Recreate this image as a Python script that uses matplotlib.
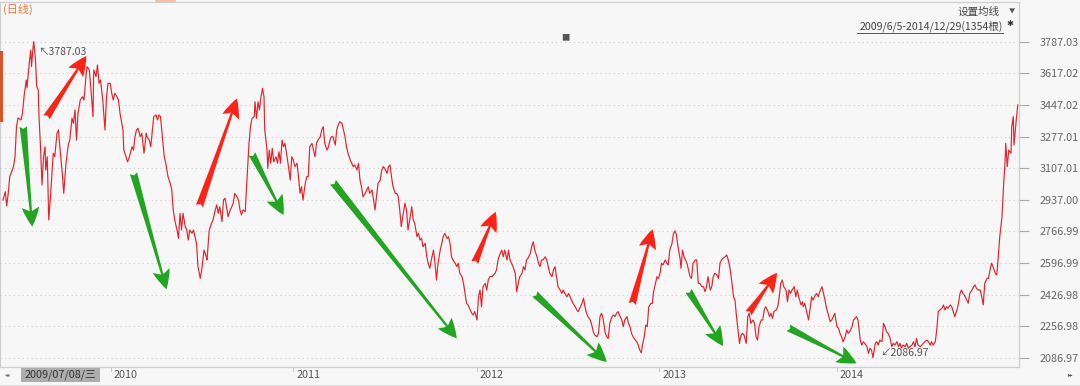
import matplotlib
matplotlib.use('Agg')
import matplotlib.pyplot as plt
from matplotlib.patches import Rectangle
from matplotlib.transforms import blended_transform_factory

plt.rcParams['font.family'] = ['Noto Sans CJK SC', 'DejaVu Sans']

W, H = 1080, 386
BG = '#f7f7f7'

# daily close (bar index from 2009/6/5)
bars = [4, 7, 9, 11, 13, 18, 20, 22, 24, 28, 30, 32, 35, 36, 39, 41, 42, 44, 45, 47,
        49, 51, 52, 54, 56, 58, 60, 61, 63, 65, 67, 69, 71, 73, 76, 78, 79, 81, 83, 85,
        88, 91, 93, 96, 98, 100, 102, 104, 107, 110, 112, 115, 116, 119, 121, 124, 125, 128, 130, 132,
        134, 137, 140, 142, 144, 147, 149, 151, 153, 156, 158, 160, 164, 165, 168, 170, 172, 176, 178, 180,
        182, 184, 187, 189, 192, 195, 196, 199, 201, 204, 205, 208, 210, 212, 214, 217, 219, 221, 224, 227,
        229, 231, 233, 236, 238, 240, 242, 244, 247, 249, 251, 253, 256, 258, 260, 262, 264, 267, 269, 272,
        275, 276, 279, 282, 284, 287, 289, 291, 293, 296, 298, 300, 302, 304, 307, 309, 311, 313, 316, 318,
        320, 322, 324, 327, 328, 330, 332, 334, 336, 339, 340, 342, 344, 346, 348, 350, 352, 353, 356, 357,
        359, 361, 363, 365, 368, 370, 372, 374, 376, 378, 380, 382, 384, 387, 389, 391, 393, 396, 398, 400,
        402, 404, 407, 409, 411, 413, 416, 418, 420, 422, 424, 427, 429, 431, 433, 436, 438, 440, 442, 444,
        447, 449, 451, 453, 456, 458, 460, 462, 464, 467, 469, 471, 473, 476, 478, 480, 482, 484, 487, 489,
        491, 493, 496, 498, 500, 502, 504, 507, 509, 511, 513, 516, 518, 520, 522, 524, 527, 529, 531, 533,
        535, 537, 540, 542, 544, 547, 549, 551, 553, 556, 558, 560, 562, 564, 567, 569, 571, 573, 576, 578,
        580, 582, 584, 587, 589, 591, 593, 596, 598, 600, 602, 604, 607, 609, 611, 613, 616, 618, 620, 622,
        624, 627, 629, 631, 633, 636, 638, 640, 642, 644, 647, 649, 651, 653, 656, 658, 660, 662, 664, 667,
        669, 671, 673, 676, 678, 680, 682, 684, 687, 689, 691, 693, 696, 698, 700, 702, 704, 707, 709, 711,
        713, 716, 718, 720, 722, 724, 727, 729, 731, 733, 736, 738, 740, 742, 744, 747, 749, 751, 753, 756,
        758, 760, 762, 764, 767, 769, 771, 773, 776, 778, 780, 782, 784, 787, 789, 791, 793, 796, 798, 800,
        802, 804, 807, 809, 811, 813, 816, 818, 820, 822, 824, 827, 829, 831, 833, 836, 838, 840, 842, 844,
        847, 849, 851, 853, 855, 857, 859, 861, 863, 865, 868, 870, 871, 873, 876, 878, 880, 882, 884, 887,
        889, 891, 893, 896, 898, 900, 902, 904, 907, 908, 910, 912, 914, 916, 918, 920, 922, 924, 927, 929,
        931, 933, 936, 938, 940, 942, 944, 947, 949, 951, 953, 956, 958, 960, 962, 964, 967, 969, 971, 973,
        976, 978, 980, 982, 984, 986, 988, 990, 992, 995, 997, 999, 1001, 1004, 1006, 1008, 1010, 1012, 1015, 1017,
        1019, 1021, 1024, 1026, 1028, 1030, 1032, 1035, 1037, 1039, 1041, 1043, 1045, 1048, 1050, 1052, 1054, 1056, 1059, 1061,
        1063, 1065, 1068, 1070, 1071, 1073, 1076, 1078, 1080, 1082, 1084, 1087, 1089, 1091, 1093, 1096, 1098, 1100, 1102, 1104,
        1107, 1109, 1111, 1113, 1116, 1118, 1120, 1122, 1124, 1127, 1129, 1131, 1133, 1136, 1138, 1140, 1142, 1144, 1147, 1149,
        1151, 1153, 1156, 1158, 1160, 1162, 1164, 1167, 1169, 1171, 1173, 1176, 1178, 1180, 1182, 1184, 1187, 1189, 1191, 1193,
        1196, 1198, 1200, 1202, 1204, 1207, 1209, 1211, 1213, 1216, 1218, 1220, 1222, 1224, 1227, 1229, 1231, 1233, 1236, 1238,
        1240, 1242, 1244, 1247, 1249, 1251, 1253, 1256, 1258, 1260, 1262, 1264, 1267, 1269, 1271, 1273, 1276, 1278, 1280, 1282,
        1284, 1287, 1289, 1291, 1293, 1296, 1298, 1300, 1302, 1304, 1307, 1309, 1311, 1313, 1316, 1318, 1320, 1322, 1324, 1327,
        1329, 1331, 1333, 1336, 1338, 1340, 1341, 1343, 1345, 1348, 1349, 1351, 1352, 1355, 1357]
prices = [2935, 2980, 2903, 2973, 3061, 3115, 3168, 3330, 3377, 3366, 3403, 3491, 3581, 3538, 3672, 3742, 3653, 3753, 3787, 3706,
          3545, 3527, 3384, 3222, 3016, 3168, 3222, 3097, 3168, 2828, 2935, 3061, 3187, 3168, 3294, 3312, 3258, 3168, 3079, 2971,
          3133, 3231, 3258, 3375, 3348, 3420, 3258, 3402, 3473, 3491, 3473, 3617, 3653, 3635, 3545, 3384, 3635, 3599, 3662, 3563,
          3581, 3473, 3312, 3491, 3563, 3563, 3509, 3473, 3509, 3491, 3473, 3402, 3312, 3204, 3168, 3141, 3160, 3222, 3204, 3276,
          3312, 3321, 3276, 3294, 3187, 3294, 3276, 3258, 3222, 3348, 3384, 3393, 3366, 3393, 3384, 3258, 3168, 3133, 3061, 3025,
          2989, 2882, 2828, 2774, 2729, 2864, 2774, 2864, 2792, 2774, 2720, 2774, 2756, 2774, 2738, 2702, 2577, 2514, 2559, 2666,
          2630, 2613, 2774, 2810, 2828, 2882, 2909, 2864, 2899, 2819, 2935, 2945, 2899, 2846, 2882, 2899, 2918, 2971, 2953, 2935,
          2882, 2855, 2882, 2873, 2953, 3097, 3240, 3330, 3375, 3384, 3464, 3375, 3464, 3420, 3491, 3536, 3491, 3312, 3204, 3106,
          3204, 3133, 3214, 3141, 3168, 3133, 3195, 3133, 3258, 3222, 3240, 3187, 3133, 3043, 3168, 3151, 3115, 3133, 3061, 2971,
          3007, 2935, 3025, 3061, 3061, 3222, 3240, 3204, 3168, 3240, 3258, 3276, 3312, 3330, 3240, 3204, 3222, 3258, 3276, 3276,
          3231, 3312, 3339, 3357, 3348, 3312, 3276, 3222, 3187, 3151, 3133, 3115, 3124, 3097, 3133, 3043, 3007, 2953, 2971, 2989,
          3007, 2971, 2989, 2935, 2882, 2953, 3025, 3043, 3097, 3115, 3106, 3079, 3115, 3124, 3061, 3007, 2971, 2971, 2953, 2882,
          2792, 2846, 2918, 2882, 2774, 2846, 2899, 2828, 2810, 2738, 2756, 2720, 2729, 2684, 2702, 2630, 2595, 2568, 2630, 2666,
          2595, 2505, 2595, 2666, 2702, 2738, 2756, 2729, 2738, 2702, 2630, 2613, 2595, 2577, 2595, 2541, 2523, 2487, 2433, 2380,
          2371, 2344, 2326, 2317, 2335, 2290, 2415, 2451, 2361, 2469, 2487, 2451, 2505, 2523, 2523, 2532, 2541, 2559, 2613, 2649,
          2666, 2630, 2666, 2613, 2666, 2613, 2595, 2577, 2541, 2442, 2487, 2523, 2541, 2577, 2559, 2613, 2622, 2649, 2684, 2711,
          2666, 2630, 2595, 2577, 2613, 2613, 2630, 2613, 2577, 2541, 2523, 2559, 2577, 2523, 2469, 2451, 2433, 2451, 2433, 2415,
          2433, 2415, 2397, 2380, 2361, 2344, 2335, 2353, 2380, 2407, 2361, 2326, 2308, 2290, 2263, 2227, 2209, 2200, 2218, 2308,
          2326, 2300, 2220, 2200, 2191, 2272, 2308, 2317, 2308, 2326, 2335, 2308, 2290, 2254, 2290, 2308, 2272, 2254, 2218, 2200,
          2182, 2173, 2155, 2128, 2114, 2164, 2200, 2263, 2254, 2361, 2380, 2380, 2433, 2469, 2523, 2514, 2541, 2595, 2586, 2613,
          2595, 2586, 2666, 2702, 2756, 2769, 2747, 2684, 2613, 2568, 2666, 2630, 2613, 2595, 2559, 2523, 2514, 2595, 2613, 2613,
          2487, 2487, 2469, 2469, 2442, 2469, 2523, 2451, 2469, 2523, 2541, 2532, 2514, 2595, 2613, 2622, 2630, 2640, 2613, 2577,
          2487, 2415, 2397, 2308, 2236, 2164, 2209, 2218, 2209, 2164, 2308, 2326, 2272, 2290, 2272, 2200, 2182, 2254, 2290, 2290,
          2344, 2361, 2335, 2308, 2326, 2299, 2335, 2344, 2361, 2415, 2487, 2505, 2469, 2451, 2388, 2451, 2433, 2451, 2469, 2415,
          2451, 2415, 2371, 2388, 2361, 2380, 2326, 2290, 2344, 2415, 2397, 2424, 2433, 2415, 2442, 2469, 2433, 2397, 2353, 2326,
          2281, 2290, 2308, 2326, 2254, 2245, 2218, 2200, 2173, 2200, 2236, 2218, 2227, 2254, 2290, 2299, 2308, 2290, 2182, 2155,
          2173, 2164, 2146, 2111, 2138, 2128, 2087, 2164, 2173, 2155, 2182, 2173, 2272, 2254, 2227, 2218, 2191, 2146, 2164, 2155,
          2173, 2146, 2164, 2138, 2155, 2146, 2164, 2138, 2146, 2155, 2173, 2146, 2191, 2155, 2146, 2155, 2164, 2173, 2182, 2173,
          2155, 2173, 2155, 2173, 2236, 2335, 2344, 2353, 2371, 2344, 2361, 2353, 2371, 2361, 2335, 2308, 2344, 2380, 2433, 2451,
          2433, 2415, 2397, 2380, 2433, 2451, 2469, 2478, 2460, 2451, 2451, 2415, 2371, 2487, 2514, 2514, 2559, 2595, 2577, 2541,
          2532, 2630, 2738, 2846, 3007, 3133, 3240, 3115, 3204, 3187, 3330, 3384, 3231, 3366, 3447]

price_ticks = [3787.03, 3617.02, 3447.02, 3277.01, 3107.01, 2937.00,
               2766.99, 2596.99, 2426.98, 2256.98, 2086.97]
year_labels = ['2010', '2011', '2012', '2013', '2014']
year_bars = [148, 391, 636, 879, 1116]

# (tail, head) in (bar, price)
green_arrows = [((31, 3330), (43, 2792)), ((178, 3079), (222, 2455)),
                ((336, 3183), (378, 2855)), ((444, 3031), (609, 2191)),
                ((713, 2430), (809, 2064)), ((918, 2447), (964, 2150)),
                ((1051, 2248), (1142, 2057))]
red_arrows = [((62, 3380), (115, 3710)), ((266, 2903), (316, 3482)),
              ((633, 2598), (661, 2872)), ((843, 2376), (870, 2778)),
              ((998, 2326), (1036, 2544))]

fig = plt.figure(figsize=(W / 100, H / 100), dpi=100, facecolor=BG)


def fx(x):
    return x / W


def fy(y):
    return 1 - y / H


ax = fig.add_axes([0, fy(367), 1019 / W, 365 / H])
ax.set_facecolor(BG)
ax.set_xlim(0, 1019 / 0.75)
ax.set_ylim(2037, 4000.6)

for v in price_ticks:
    ax.axhline(v, color='#cccccc', lw=0.8, ls=(0, (1, 3)), zorder=1)

ax.plot(bars, prices, color='#e8222a', lw=0.85, zorder=3)

style = 'fancy,head_length=1.0,head_width=0.9,tail_width=0.38'
for tail, head in green_arrows:
    ax.annotate('', xy=head, xytext=tail, zorder=4,
                arrowprops=dict(arrowstyle=style, mutation_scale=14,
                                fc='#22a622', ec='#22a622', lw=0, shrinkA=0, shrinkB=0))
for tail, head in red_arrows:
    ax.annotate('', xy=head, xytext=tail, zorder=4,
                arrowprops=dict(arrowstyle=style, mutation_scale=14,
                                fc='#ff2216', ec='#ff2216', lw=0, shrinkA=0, shrinkB=0))

ax.yaxis.tick_right()
ax.set_yticks(price_ticks)
ax.set_yticklabels([f'{v:.2f}' for v in price_ticks])
ax.tick_params(axis='y', length=7, width=0.8, color='#aaaaaa', labelcolor='#666666',
               labelsize=7.8, pad=8)
ax.set_xticks([])
for s in ['left', 'top', 'bottom', 'right']:
    ax.spines[s].set_color('#cfcfcf')
    ax.spines[s].set_linewidth(0.9)

# max / min markers
ax.text(51, 3732, '↖3787.03', fontsize=7.6, color='#555555', va='center', ha='left', zorder=5)
ax.text(1173, 2114, '↙2086.97', fontsize=7.6, color='#555555', va='center', ha='left', zorder=5)

# date strip
trans = blended_transform_factory(ax.transData, ax.transAxes)
for b, lab in zip(year_bars, year_labels):
    ax.plot([b, b], [0, -4 / 365], transform=trans, color='#c8c8c8', lw=0.8, clip_on=False)
    ax.text(b + 4, -8 / 365, lab, transform=trans, fontsize=7.8, color='#555555',
            ha='left', va='center', clip_on=False)

fig.patches.append(Rectangle((fx(20.7), fy(382)), 79.3 / W, 14 / H, transform=fig.transFigure,
                             facecolor='#adadad', edgecolor='none'))
fig.text(fx(25), fy(375), '2009/07/08/三', fontsize=7.8, color='#333333', va='center', ha='left')
fig.text(fx(5), fy(375), '◂◂', fontsize=4, color='#777777', va='center', ha='left')
fig.text(fx(1068), fy(375), '▸▸', fontsize=4, color='#555555', va='center', ha='left')
fig.add_artist(plt.Line2D([0, 1], [fy(384.5), fy(384.5)], transform=fig.transFigure,
                          color='#dddddd', lw=0.8))

# left edge marker strip
fig.add_artist(plt.Line2D([fx(1), fx(1)], [fy(52), fy(120)], transform=fig.transFigure,
                          color='#d9532b', lw=2.2))
fig.add_artist(plt.Line2D([fx(156), fx(175)], [fy(0.5), fy(0.5)], transform=fig.transFigure,
                          color='#f6b596', lw=1.2))

# header texts
fig.text(fx(3), fy(9.5), '(日线)', fontsize=8, color='#f07a3c', va='center', ha='left')
fig.text(fx(1000), fy(12), '设置均线', fontsize=7.6, color='#444444', va='center', ha='right')
fig.text(fx(1012), fy(12), '▼', fontsize=4.5, color='#555555', va='center', ha='center')
fig.text(fx(1003), fy(26), '2009/6/5-2014/12/29(1354根)', fontsize=7.6, color='#444444',
         va='center', ha='right')
fig.add_artist(plt.Line2D([fx(857), fx(1003)], [fy(33), fy(33)], transform=fig.transFigure,
                          color='#555555', lw=0.7))
fig.text(fx(1010), fy(24), '✱', fontsize=6, color='#333333', va='center', ha='center')
fig.text(fx(565), fy(38), '■', fontsize=6, color='#555555', va='center', ha='center')

fig.savefig('out.png', dpi=100, facecolor=BG)
